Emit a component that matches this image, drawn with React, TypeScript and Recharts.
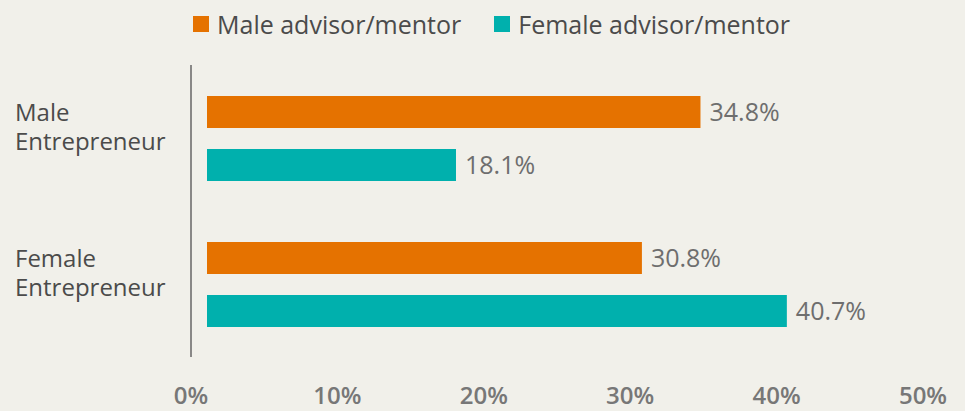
import React from 'react'
import { BarChart, Bar, XAxis, YAxis, LabelList } from 'recharts'

const categories = ['Male\nEntrepreneur', 'Female\nEntrepreneur']
const maleAdvisor = [34.8, 30.8]
const femaleAdvisor = [18.1, 40.7]
const xTicks = [0, 10, 20, 30, 40, 50]
const seriesNames = ['Male advisor/mentor', 'Female advisor/mentor']

const ORANGE = '#e57200'
const TEAL = '#00b0ad'
const BG = '#f1f0ea'
const FONT = '"Open Sans", sans-serif'
const FS = 25

const data = categories.map((c, i) => ({
  category: c,
  male: maleAdvisor[i],
  female: femaleAdvisor[i],
}))

// bars begin a little right of the axis line in the original
const GAP = 16
const BarShape = (props: any) => {
  const { x, y, width, height, fill } = props
  return <rect x={x + GAP} y={y} width={Math.max(width - GAP, 0)} height={height} fill={fill} />
}

const CategoryTick = ({ y, payload }: any) => {
  const lines = String(payload.value).split('\n')
  return (
    <g>
      <text x={15} y={y - 17} fill="#4b4b4b" fontSize={FS - 1} fontFamily={FONT} textAnchor="start">{lines[0]}</text>
      <text x={15} y={y + 12} fill="#4b4b4b" fontSize={FS - 1} fontFamily={FONT} textAnchor="start">{lines[1]}</text>
    </g>
  )
}

export default function App() {
  return (
    <div style={{ position: 'fixed', left: 0, top: 0, width: 965, height: 411, background: BG }}>
      {/* legend */}
      <div style={{ position: 'absolute', top: 8, left: 193, height: 32, display: 'flex', alignItems: 'center', fontFamily: FONT, fontSize: FS, color: '#4b4b4b', whiteSpace: 'nowrap' }}>
        {seriesNames.map((n, i) => (
          <div key={n} style={{ display: 'flex', alignItems: 'center', marginRight: 33 }}>
            <span style={{ width: 16, height: 16, background: i === 0 ? ORANGE : TEAL, display: 'inline-block', marginRight: 8 }} />
            <span>{n}</span>
          </div>
        ))}
      </div>
      <BarChart
        width={965}
        height={411}
        data={data}
        layout="vertical"
        margin={{ top: 65, right: 42, left: 0, bottom: 0 }}
        barSize={32}
        barGap={21}
      >
        <XAxis
          type="number"
          domain={[0, 50]}
          ticks={xTicks}
          tickFormatter={(v) => `${v}%`}
          axisLine={false}
          tickLine={false}
          tickMargin={24}
          height={54}
          tick={{ fill: '#777777', fontSize: FS - 1, fontFamily: FONT, fontWeight: 600 }}
          interval={0}
        />
        <YAxis
          type="category"
          dataKey="category"
          width={191}
          axisLine={{ stroke: '#666666', strokeWidth: 1.5 }}
          tickLine={false}
          tick={<CategoryTick />}
        />
        <Bar dataKey="male" name={seriesNames[0]} fill={ORANGE} shape={<BarShape />} isAnimationActive={false}>
          <LabelList dataKey="male" position="right" offset={9} formatter={(v: any) => `${v}%`} fill="#6e6e6e" fontSize={FS} fontFamily={FONT} />
        </Bar>
        <Bar dataKey="female" name={seriesNames[1]} fill={TEAL} shape={<BarShape />} isAnimationActive={false}>
          <LabelList dataKey="female" position="right" offset={9} formatter={(v: any) => `${v}%`} fill="#6e6e6e" fontSize={FS} fontFamily={FONT} />
        </Bar>
      </BarChart>
    </div>
  )
}
